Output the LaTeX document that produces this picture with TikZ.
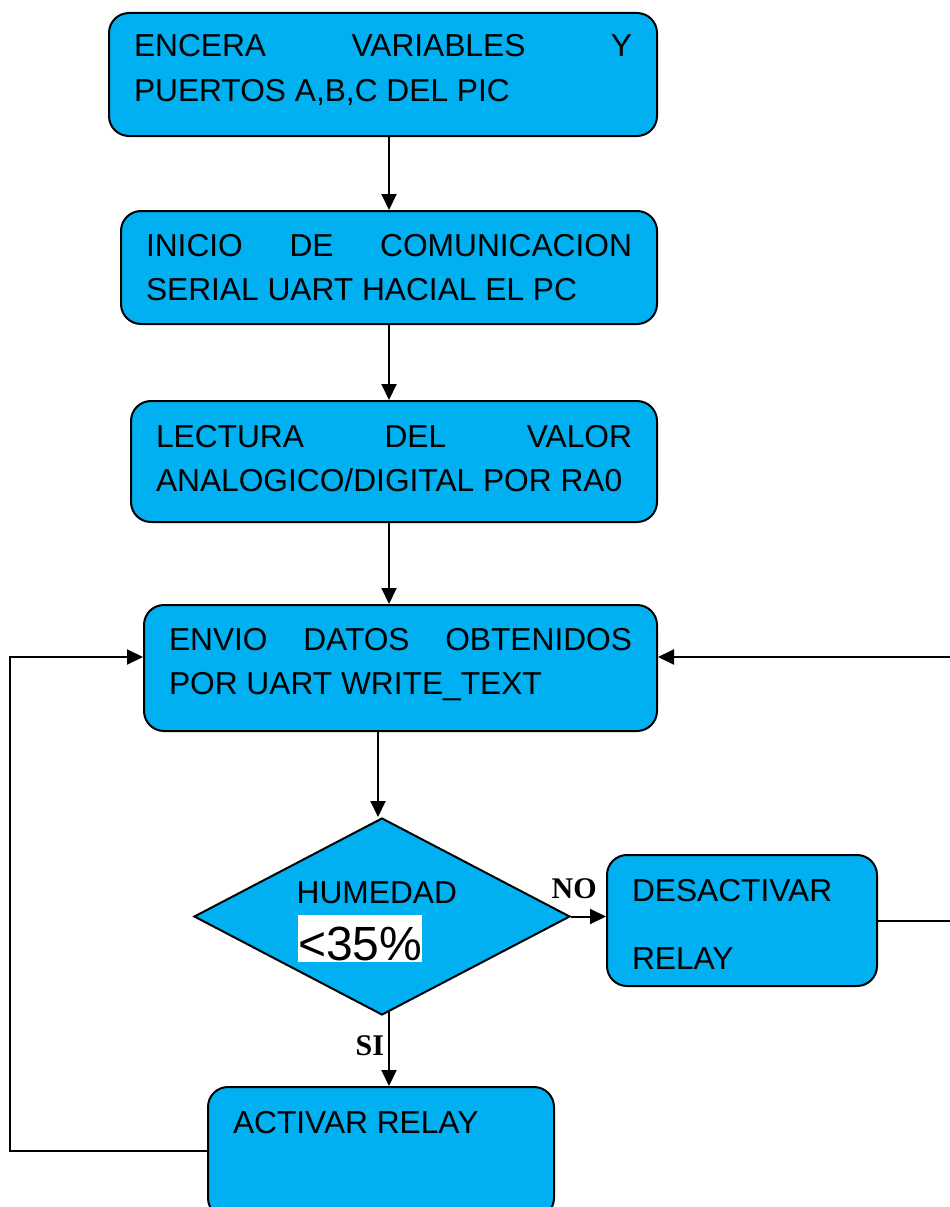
\documentclass[tikz,border=0pt]{standalone}
\usepackage{fontspec}
\setmainfont{Liberation Sans}
\newfontfamily\lblfont{Liberation Serif}
\usetikzlibrary{arrows.meta,shapes.geometric,calc}
\definecolor{boxblue}{RGB}{0,176,240}
\newcommand{\boxtext}[2]{\parbox[t]{#1}{\fontsize{31.7}{44}\selectfont #2}}
\tikzset{
  procbox/.style={draw=black, line width=2pt, fill=boxblue, rounded corners=20pt,
    inner xsep=25pt, inner ysep=0pt, anchor=north west},
  decbox/.style={draw=black, line width=2pt, fill=boxblue, diamond,
    minimum width=376pt, minimum height=197pt, inner sep=0pt},
  arr/.style={line width=2pt, -{Triangle[length=16pt,width=15pt]}},
  plaintext/.style={anchor=base west, inner sep=0pt, font=\fontsize{31.7}{38}\selectfont},
  pcttext/.style={anchor=base west, inner sep=0pt, fill=white, text height=45pt,
    text depth=2pt, font=\fontsize{48}{56}\selectfont},
  lbltext/.style={anchor=base west, inner sep=0pt, font=\lblfont\bfseries\fontsize{30}{36}\selectfont},
}
\begin{document}
\begin{tikzpicture}[x=1pt,y=-1pt]
\fill[white] (0,0) rectangle (950,1207);
\useasboundingbox (0,0) rectangle (950,1207);

\node[procbox, text height=44pt, text depth=79pt] (b1) at (108,12)
  {\boxtext{498pt}{ENCERA\hfill VARIABLES\hfill Y\\PUERTOS A,B,C DEL PIC}};
\node[procbox, text height=45pt, text depth=68pt] (b2) at (120,210)
  {\boxtext{486pt}{INICIO\hfill DE\hfill COMUNICACION\\SERIAL UART HACIAL EL PC}};
\node[procbox, text height=46pt, text depth=75pt] (b3) at (130,400)
  {\boxtext{476pt}{LECTURA\hfill DEL\hfill VALOR\\ANALOGICO/DIGITAL POR RA0}};
\node[procbox, text height=45pt, text depth=81pt] (b4) at (143,604)
  {\boxtext{463pt}{ENVIO\hfill DATOS\hfill OBTENIDOS\\POR UART WRITE\_TEXT}};

\node[decbox] (d) at (382,916.5) {};
\node[plaintext] (hum) at (296.5,903) {HUMEDAD};
\node[pcttext] (pct) at (298,960) {<35\%};

\node[procbox, text height=46pt, text depth=85pt] (b6) at (606,854)
  {\boxtext{220pt}{DESACTIVAR\\[24pt]RELAY}};
\node[procbox, text height=46pt, text depth=85pt] (b7) at (207,1086)
  {\boxtext{296pt}{ACTIVAR RELAY}};

\node[lbltext] (no) at (551.5,898) {NO};
\node[lbltext] (si) at (355.5,1055) {SI};

\coordinate (rt) at (954,657);
\coordinate (lt) at (10,657);

\draw[arr] (b2.north |- b1.south) -- (b2.north);
\draw[arr] (b2.south) -- (b2.south |- b3.north);
\draw[arr] ([xshift=-5pt]b3.south) -- ([xshift=-5pt]b3.south |- b4.north);
\draw[arr] ([xshift=-4pt]d.north |- b4.south) -- ([xshift=-4pt]d.north);
\draw[arr] (d.east) -- (d.east -| b6.west);
\draw[arr] ([xshift=7pt,yshift=4pt]d.south) -- ([xshift=7pt]d.south |- b7.north);
\draw[arr] (b6.east) -| (rt) -- (rt -| b4.east);
\draw[arr] ([yshift=2pt]b7.west) -| (lt) -- (lt -| b4.west);
\end{tikzpicture}
\end{document}
